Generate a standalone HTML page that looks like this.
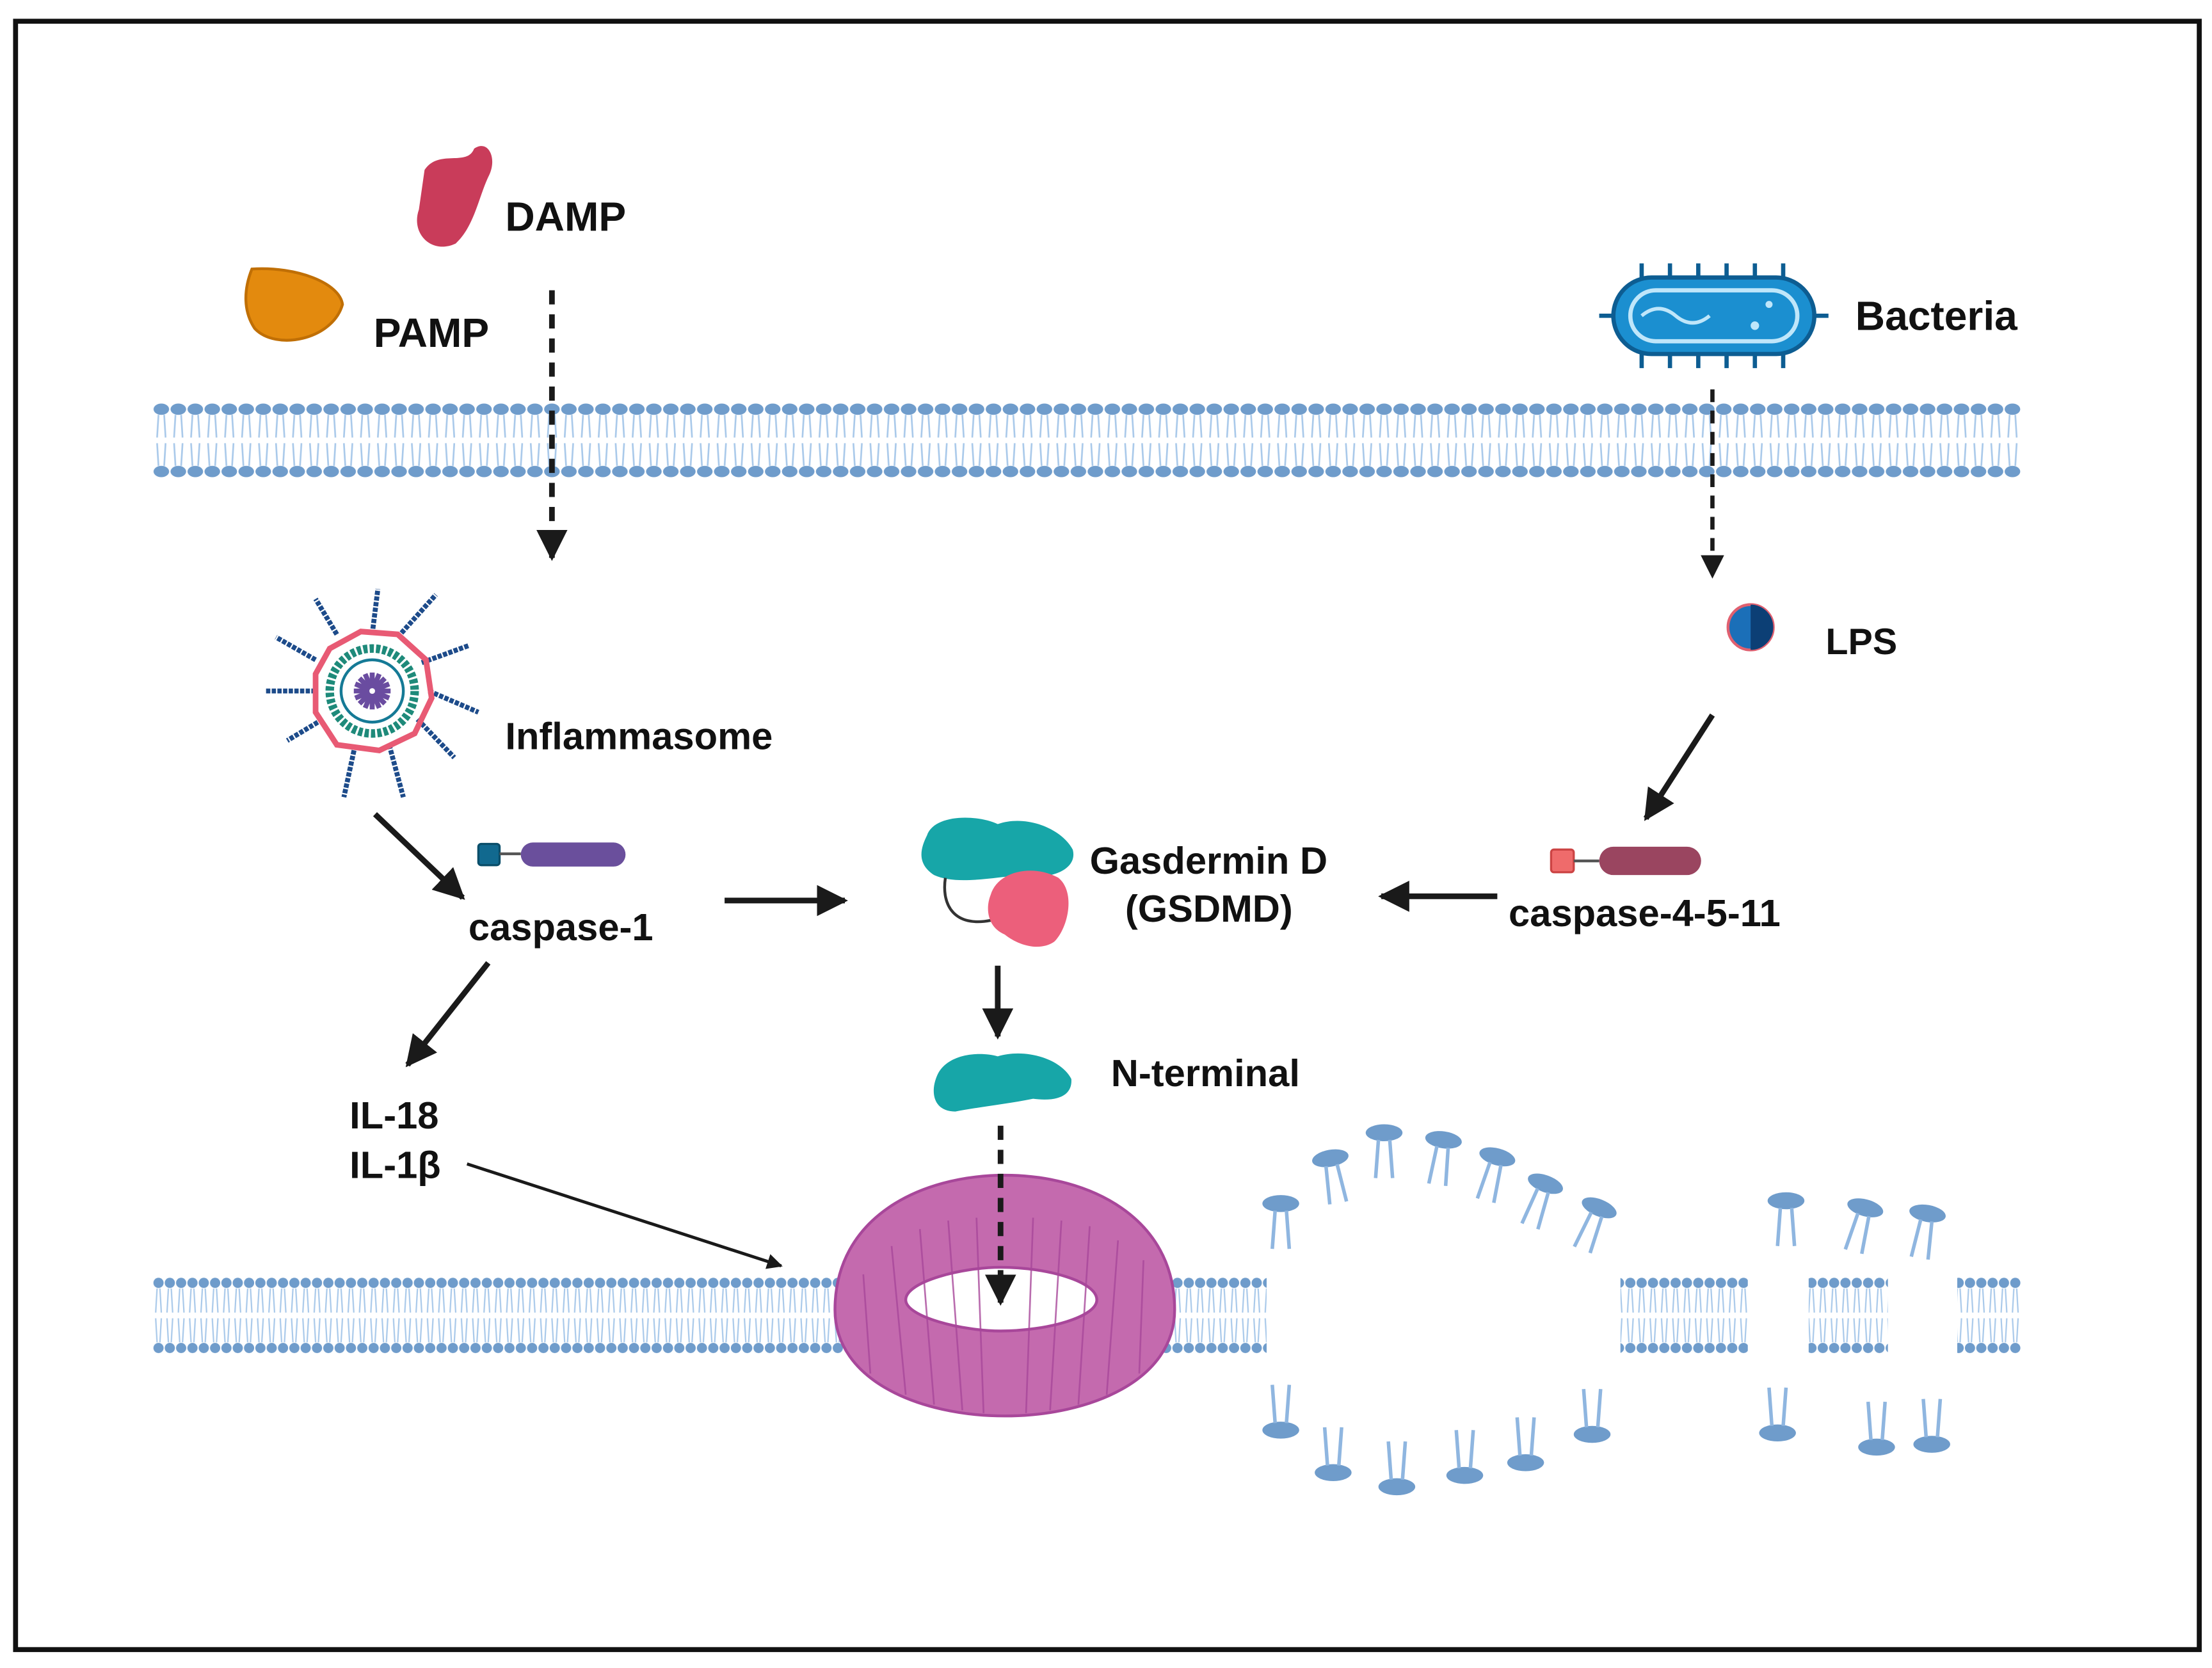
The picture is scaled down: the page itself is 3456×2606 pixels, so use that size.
<!DOCTYPE html>
<html><head><meta charset="utf-8"><style>
html,body{margin:0;padding:0;background:#fff;}
svg{display:block;}
text{font-family:"Liberation Sans",sans-serif;font-weight:bold;fill:#111;}
</style></head><body>
<svg width="3456" height="2606" viewBox="0 0 1563 1178" preserveAspectRatio="none" xmlns="http://www.w3.org/2000/svg">
<defs>
<pattern id="mem" x="108" y="285" width="12" height="52" patternUnits="userSpaceOnUse">
<ellipse cx="6" cy="4" rx="5.5" ry="4" fill="#6f9ccb"/>
<ellipse cx="6" cy="48" rx="5.5" ry="4" fill="#6f9ccb"/>
<path d="M4 8 L3 24 M8 8 L9 24 M3 28 L4 44 M9 28 L8 44" stroke="#a9c9ea" stroke-width="1.2" fill="none"/>
</pattern>
<pattern id="mem2" x="108" y="902" width="8" height="54" patternUnits="userSpaceOnUse">
<circle cx="4" cy="4" r="3.6" fill="#6f9ccb"/>
<circle cx="4" cy="50" r="3.6" fill="#6f9ccb"/>
<path d="M3 8 L2 25 M5 8 L6 25 M2 29 L3 46 M6 29 L5 46" stroke="#a9c9ea" stroke-width="1" fill="none"/>
</pattern>
<marker id="ah" viewBox="0 0 10 10" refX="9" refY="5" markerWidth="5.5" markerHeight="5.5" orient="auto"><path d="M0 0 L10 5 L0 10 Z" fill="#1a1a1a"/></marker>
<marker id="ah2" viewBox="0 0 10 10" refX="9" refY="5" markerWidth="5" markerHeight="5" orient="auto"><path d="M0 0 L10 5 L0 10 Z" fill="#1a1a1a"/></marker>
<g id="lip"><ellipse cx="0" cy="0" rx="13" ry="6" fill="#6f9ccb"/><path d="M-4 5 L-6 32 M4 5 L6 32" stroke="#8fb6e0" stroke-width="2.5" fill="none"/></g>
</defs>
<rect x="0" y="0" width="1563" height="1178" fill="#fff"/>
<rect x="11" y="15" width="1543" height="1150" fill="none" stroke="#111" stroke-width="3.5"/>

<rect x="108" y="285" width="1320" height="52" fill="url(#mem)"/>
<rect x="108" y="902" width="492" height="54" fill="url(#mem2)"/>
<rect x="815" y="902" width="80" height="54" fill="url(#mem2)"/>
<rect x="1145" y="902" width="90" height="54" fill="url(#mem2)"/>
<rect x="1278" y="902" width="56" height="54" fill="url(#mem2)"/>
<rect x="1383" y="902" width="45" height="54" fill="url(#mem2)"/>

<use href="#lip" transform="translate(905,850)"/>
<use href="#lip" transform="translate(940,818) rotate(-10)"/>
<use href="#lip" transform="translate(978,800)"/>
<use href="#lip" transform="translate(1020,805) rotate(8)"/>
<use href="#lip" transform="translate(1058,817) rotate(15)"/>
<use href="#lip" transform="translate(1092,836) rotate(20)"/>
<use href="#lip" transform="translate(1130,853) rotate(22)"/>
<use href="#lip" transform="translate(1262,848)"/>
<use href="#lip" transform="translate(1318,853) rotate(15)"/>
<use href="#lip" transform="translate(1362,857) rotate(10)"/>
<use href="#lip" transform="translate(905,1010) rotate(180)"/>
<use href="#lip" transform="translate(942,1040) rotate(180)"/>
<use href="#lip" transform="translate(987,1050) rotate(180)"/>
<use href="#lip" transform="translate(1035,1042) rotate(180)"/>
<use href="#lip" transform="translate(1078,1033) rotate(180)"/>
<use href="#lip" transform="translate(1125,1013) rotate(180)"/>
<use href="#lip" transform="translate(1256,1012) rotate(180)"/>
<use href="#lip" transform="translate(1326,1022) rotate(180)"/>
<use href="#lip" transform="translate(1365,1020) rotate(180)"/>

<path fill-rule="evenodd" fill="#c46aae" stroke="#a8479a" stroke-width="2"
 d="M590 925 C590 860 650 830 710 830 C770 830 830 860 830 925 C830 975 770 1000 710 1000 C650 1000 590 975 590 925 Z M640 918 C640 930 680 940 707 940 C740 940 775 930 775 918 C775 905 740 895 707 895 C680 895 640 905 640 918 Z"/>
<g stroke="#a8479a" stroke-width="1.2" fill="none" opacity="0.8">
<path d="M610 900 L615 970 M630 880 L640 985 M650 868 L660 992 M670 862 L680 996 M690 860 L695 998 M730 860 L725 998 M750 862 L742 996 M770 866 L762 992 M790 876 L782 985 M808 890 L805 970"/>
</g>

<path d="M300 120 C310 105 330 118 335 105 C345 98 352 112 345 125 C338 140 335 160 322 172 C305 180 290 165 296 148 Z" fill="#c93c5a"/>
<text x="357" y="163" font-size="29">DAMP</text>
<path d="M178 190 C210 188 240 200 242 215 C235 240 195 248 180 232 C172 220 172 205 178 190 Z" fill="#e38a0e" stroke="#c06f05" stroke-width="2"/>
<text x="264" y="245" font-size="29">PAMP</text>
<g>
<rect x="1140" y="196" width="142" height="54" rx="27" fill="#1b8fd0" stroke="#0d5d92" stroke-width="3"/>
<rect x="1152" y="205" width="118" height="36" rx="18" fill="none" stroke="#bfe6fa" stroke-width="3"/>
<path d="M1160 223 q12 -10 24 0 t24 0" stroke="#bfe6fa" stroke-width="2.5" fill="none"/>
<circle cx="1240" cy="230" r="3" fill="#bfe6fa"/><circle cx="1250" cy="215" r="2.5" fill="#bfe6fa"/>
<path d="M1160 196 v-10 M1180 196 v-10 M1200 196 v-10 M1220 196 v-10 M1240 196 v-10 M1260 196 v-10 M1160 250 v10 M1180 250 v10 M1200 250 v10 M1220 250 v10 M1240 250 v10 M1260 250 v10 M1140 223 h-10 M1282 223 h10" stroke="#0d5d92" stroke-width="3"/>
</g>
<text x="1311" y="233" font-size="29">Bacteria</text>
<circle cx="1237" cy="443" r="16" fill="#1b6fb8" stroke="#e06070" stroke-width="2"/>
<path d="M1237 427 a16 16 0 0 1 0 32 Z" fill="#0c3f75"/>
<text x="1290" y="462" font-size="26">LPS</text>

<g transform="translate(263,488)">
<g stroke="#1d4b8a" stroke-width="3.5" stroke-dasharray="3 1">
<line x1="0" y1="-40" x2="4" y2="-72"/><line x1="18" y1="-38" x2="45" y2="-68"/><line x1="35" y1="-20" x2="68" y2="-32"/>
<line x1="40" y1="0" x2="75" y2="15"/><line x1="32" y1="20" x2="58" y2="47"/><line x1="12" y1="38" x2="22" y2="75"/>
<line x1="-12" y1="38" x2="-20" y2="75"/><line x1="-35" y1="20" x2="-60" y2="35"/><line x1="-40" y1="0" x2="-75" y2="0"/>
<line x1="-40" y1="-22" x2="-68" y2="-38"/><line x1="-25" y1="-40" x2="-40" y2="-65"/>
</g>
<polygon points="-30,-30 -8,-42 18,-40 38,-22 42,5 30,30 5,42 -25,38 -40,15 -40,-12" fill="none" stroke="#e85a74" stroke-width="4"/>
<circle r="30" fill="none" stroke="#1e8a7a" stroke-width="6" stroke-dasharray="3 1.5"/>
<circle r="22" fill="none" stroke="#157a96" stroke-width="2"/>
<g stroke="#6a4ca0" stroke-width="3.5"><line x1="-13" y1="0" x2="13" y2="0"/><line x1="0" y1="-13" x2="0" y2="13"/><line x1="-9" y1="-9" x2="9" y2="9"/><line x1="-9" y1="9" x2="9" y2="-9"/><line x1="-5" y1="-12" x2="5" y2="12"/><line x1="-12" y1="-5" x2="12" y2="5"/><line x1="-12" y1="5" x2="12" y2="-5"/><line x1="-5" y1="12" x2="5" y2="-12"/></g>
<circle r="2" fill="#fff"/>
</g>
<text x="357" y="529" font-size="27">Inflammasome</text>

<rect x="338" y="596" width="15" height="15" rx="2" fill="#11698f" stroke="#0a4e6a" stroke-width="1.5"/>
<line x1="353" y1="603" x2="368" y2="603" stroke="#555" stroke-width="2"/>
<rect x="368" y="595" width="74" height="17" rx="8.5" fill="#6a4f9c"/>
<text x="331" y="664" font-size="27">caspase-1</text>

<rect x="1096" y="600" width="16" height="16" rx="2" fill="#ef6b6b" stroke="#c44" stroke-width="1.5"/>
<line x1="1112" y1="608" x2="1130" y2="608" stroke="#555" stroke-width="2"/>
<rect x="1130" y="598" width="72" height="20" rx="10" fill="#9a4560"/>
<text x="1066" y="654" font-size="27">caspase-4-5-11</text>

<path d="M655 590 C660 575 690 575 705 582 C725 575 750 585 758 600 C762 615 740 622 722 618 C700 620 675 625 660 618 C648 610 650 600 655 590 Z" fill="#17a6a8"/>
<path d="M668 620 C665 640 675 655 700 650" stroke="#333" stroke-width="2" fill="none"/>
<path d="M700 632 C705 615 730 610 748 620 C760 630 755 655 745 665 C735 672 720 668 710 660 C698 655 696 642 700 632 Z" fill="#ec5f7b"/>
<text x="770" y="617" font-size="27">Gasdermin D</text>
<text x="795" y="651" font-size="27">(GSDMD)</text>

<path d="M662 760 C668 745 690 742 705 746 C725 740 750 748 757 762 C758 775 745 778 730 776 C710 780 690 782 675 785 C660 785 657 772 662 760 Z" fill="#17a6a8"/>
<text x="785" y="767" font-size="27">N-terminal</text>

<text x="247" y="797" font-size="27">IL-18</text>
<text x="247" y="832" font-size="27">IL-1β</text>

<g stroke="#1a1a1a" fill="none">
<line x1="390" y1="205" x2="390" y2="394" stroke-width="4" stroke-dasharray="10 7" marker-end="url(#ah)"/>
<line x1="1210" y1="275" x2="1210" y2="407" stroke-width="3" stroke-dasharray="9 6" marker-end="url(#ah)"/>
<line x1="1210" y1="505" x2="1163" y2="578" stroke-width="4" marker-end="url(#ah)"/>
<line x1="265" y1="575" x2="327" y2="634" stroke-width="4" marker-end="url(#ah)"/>
<line x1="512" y1="636" x2="597" y2="636" stroke-width="4" marker-end="url(#ah)"/>
<line x1="1058" y1="633" x2="976" y2="633" stroke-width="4" marker-end="url(#ah)"/>
<line x1="345" y1="680" x2="288" y2="752" stroke-width="4" marker-end="url(#ah)"/>
<line x1="705" y1="682" x2="705" y2="732" stroke-width="4" marker-end="url(#ah)"/>
<line x1="707" y1="795" x2="707" y2="920" stroke-width="4" stroke-dasharray="10 7" marker-end="url(#ah)"/>
<line x1="330" y1="822" x2="552" y2="894" stroke-width="2.2" marker-end="url(#ah2)"/>
</g>
</svg>
</body></html>
